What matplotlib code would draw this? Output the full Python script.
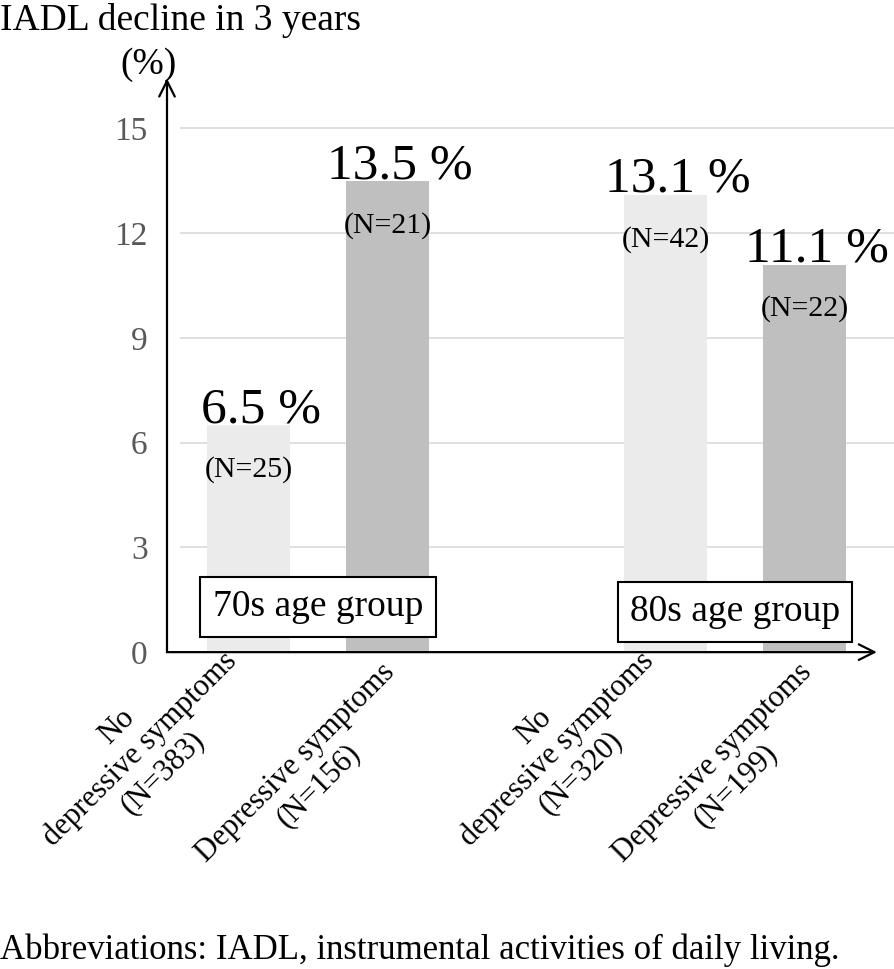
import matplotlib.pyplot as plt
from matplotlib.transforms import ScaledTranslation

plt.rcParams['font.family'] = ['Liberation Serif', 'DejaVu Serif']

# data
categories = ["No\ndepressive symptoms\n(N=383)", "Depressive symptoms\n(N=156)",
              "No\ndepressive symptoms\n(N=320)", "Depressive symptoms\n(N=199)"]
positions = [0, 1, 3, 4]
values = [6.5, 13.5, 13.1, 11.1]
n_labels = ["(N=25)", "(N=21)", "(N=42)", "(N=22)"]
bar_colors = ["#EBEBEB", "#BFBFBF", "#EBEBEB", "#BFBFBF"]
groups = ["70s age group", "80s age group"]
group_x = [0.5, 3.5]
yticks = [0, 3, 6, 9, 12, 15]

fig = plt.figure(figsize=(8.94, 9.69), dpi=100)
ax = fig.add_axes([0.1868, 0.327, 0.794, 0.592])
ax.set_xlim(-0.586, 4.52)
ax.set_ylim(0, 16.43)

for s in ax.spines.values():
    s.set_visible(False)

# grid lines
ax.hlines(yticks[1:], -0.49, 4.66, colors="#D9D9D9", lw=1.2, zorder=0, clip_on=False)

ax.bar(positions, values, width=0.6, color=bar_colors, zorder=2)

# axis arrows
arrow = dict(arrowstyle='->', lw=1.6, color='black', mutation_scale=28, shrinkA=0, shrinkB=0)
ax.annotate('', xy=(0, 1), xytext=(0, 0), xycoords='axes fraction', arrowprops=arrow, zorder=5)
ax.annotate('', xy=(1, 0), xytext=(0, 0), xycoords='axes fraction', arrowprops=arrow, zorder=5)

ax.set_yticks(yticks)
ax.set_yticklabels([str(t) for t in yticks], fontsize=24, color="#595959")
ax.tick_params(axis='y', length=0, pad=14)

# rotated category labels, centred below each bar (offset like the original layout)
ax.set_xticks(positions)
ax.set_xticklabels(categories, fontsize=22, rotation=45, ha='center', va='center',
                   rotation_mode='anchor', multialignment='center', linespacing=1.15)
ax.tick_params(axis='x', length=0, pad=0)
for lab in ax.get_xticklabels():
    nlines = lab.get_text().count("\n") + 1
    dx, dy = (-78, -70) if nlines == 3 else (-58, -88)
    lab.set_transform(lab.get_transform() + ScaledTranslation(dx / 72, dy / 72, fig.dpi_scale_trans))

# value labels
for x, v, n in zip(positions, values, n_labels):
    ax.annotate(f"{v} %", xy=(x, v), xytext=(9, 2), textcoords='offset points',
                ha='center', va='baseline', fontsize=37, zorder=4)
    ax.annotate(n, xy=(x, v), xytext=(0, -32), textcoords='offset points',
                ha='center', va='center', fontsize=21.5, zorder=4)

# group boxes
for gx, g, gy in zip(group_x, groups, [1.29, 1.15]):
    ax.text(gx, gy, g, ha='center', va='center', fontsize=27, zorder=6,
            bbox=dict(boxstyle='square,pad=0.33', fc='white', ec='black', lw=1.5))

fig.text(0.0, 1 - 20 / 969, "IADL decline in 3 years", fontsize=27, ha='left', va='center')
fig.text(148 / 894, 1 - 65 / 969, "(%)", fontsize=27, ha='center', va='center')
fig.text(0.0, 1 - 950 / 969, "Abbreviations: IADL, instrumental activities of daily living.",
         fontsize=25, ha='left', va='center')

fig.savefig("out.png", dpi=100)
